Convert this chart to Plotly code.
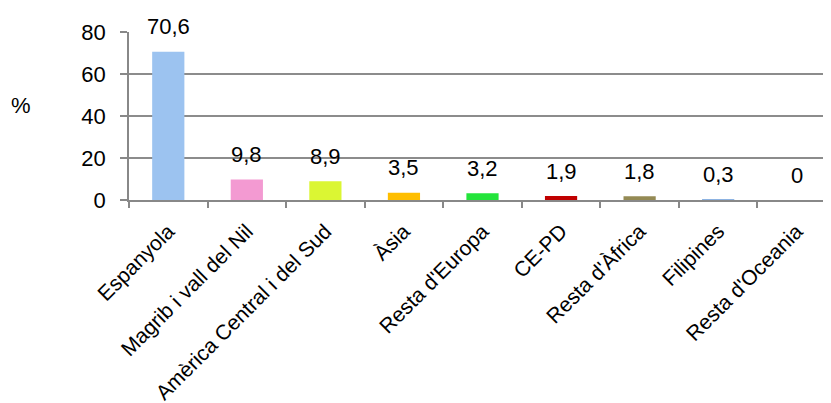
import plotly.graph_objects as go

categories = ["Espanyola", "Magrib i vall del Nil", "Amèrica Central i del Sud", "Àsia",
              "Resta d'Europa", "CE-PD", "Resta d'Àfrica", "Filipines", "Resta d'Oceania"]
values = [70.6, 9.8, 8.9, 3.5, 3.2, 1.9, 1.8, 0.3, 0]
labels = ["70,6", "9,8", "8,9", "3,5", "3,2", "1,9", "1,8", "0,3", "0"]
colors = ["#9CC3F0", "#F39AD2", "#DBF633", "#FFBE00", "#24E43B", "#C00000", "#948A54", "#8DB3E2", "#C0C0C0"]
y_ticks = [0, 20, 40, 60, 80]

# page body has an 8px margin, so figure coords = screen coords - 8
W, H = 831, 403
L, R, T, B = 121, 0, 24, 211
plot_w = W - L - R
plot_h = H - T - B
cat_w = 707 / 9
x_end = plot_w / cat_w - 0.5

font = "Liberation Sans, Arial, sans-serif"

fig = go.Figure()
fig.add_trace(go.Bar(x=categories, y=values, marker=dict(color=colors, line=dict(width=0)),
                     width=0.41, hoverinfo="skip"))

for c, v, t in zip(categories, values, labels):
    fig.add_annotation(x=c, y=v, text=t, showarrow=False, yanchor="middle", yshift=25,
                       font=dict(size=22, color="#000000", family=font))

fig.add_annotation(xref="paper", yref="paper", x=(13 - L) / plot_w, y=(192 - 97) / plot_h,
                   text="%", showarrow=False, xanchor="center", yanchor="middle",
                   font=dict(size=22, color="#000000", family=font))

fig.update_layout(
    template="none",
    width=W, height=H,
    margin=dict(l=L, r=R, t=T, b=B, autoexpand=False),
    paper_bgcolor="white", plot_bgcolor="white",
    showlegend=False,
    font=dict(family=font, size=20, color="#000000"),
    xaxis=dict(type="category", range=[-0.5, x_end], showgrid=False, gridcolor="rgba(0,0,0,0)",
               gridwidth=0, zeroline=False,
               showline=True, linecolor="#888888", linewidth=1.5,
               ticks="outside", tickson="boundaries", ticklen=6, tickcolor="#888888", tickwidth=1.5,
               tickangle=-45, tickfont=dict(size=21, family=font, color="#000000"),
               ticklabelstandoff=9, automargin=False),
    yaxis=dict(range=[0, 80], tickvals=y_ticks, showgrid=True, gridcolor="#8C8C8C", gridwidth=1.5,
               showline=True, linecolor="#888888", linewidth=1.5, zeroline=False,
               ticks="outside", ticklen=7, tickcolor="#888888", tickwidth=1.5,
               ticklabelstandoff=10,
               tickfont=dict(size=22, family=font, color="#000000"), automargin=False),
)

fig.write_html("out.html")
